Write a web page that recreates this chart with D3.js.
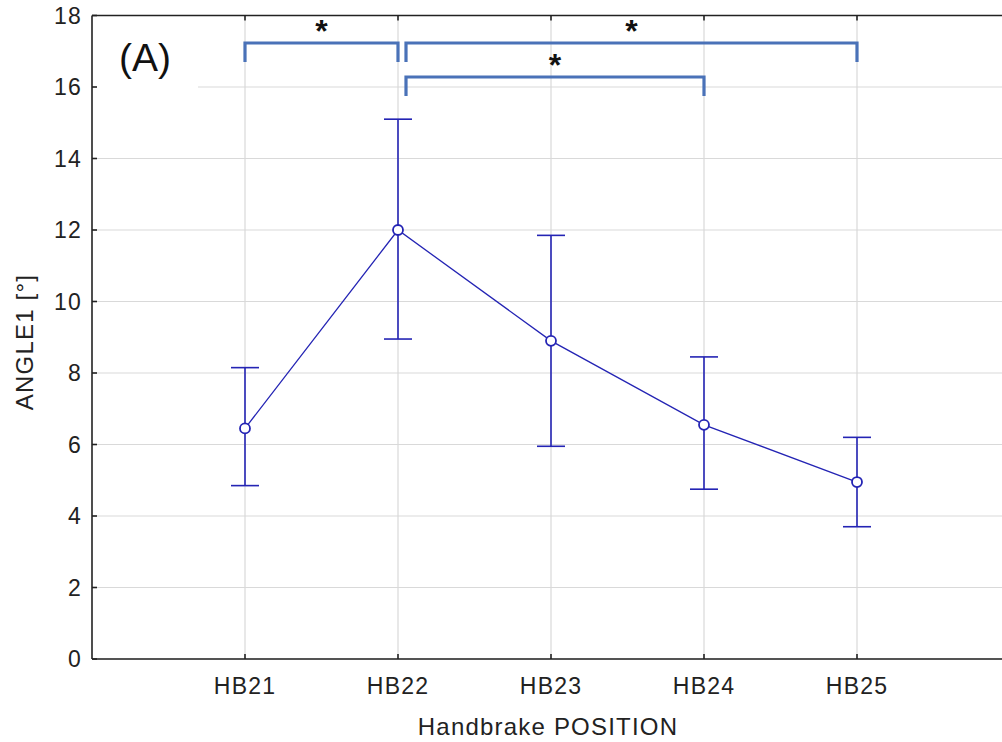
<!DOCTYPE html>
<html>
<head>
<meta charset="utf-8">
<script src="https://cdn.jsdelivr.net/npm/d3@7"></script>
<style>
  body { margin: 0; background: #fff; }
  svg { display: block; font-family: "Liberation Sans", Arial, sans-serif; }
  .grid line { stroke: #d9d9d9; stroke-width: 1.2; }
  .tick-lbl { fill: #222; font-size: 23px; letter-spacing: 1.2px; }
  .ttl { fill: #222; font-size: 24px; letter-spacing: 1.2px; }
</style>
</head>
<body>
<svg id="chart" width="1002" height="742"></svg>
<script>
// mean ANGLE1 with error bar ends, per handbrake position
const positions = ['HB21', 'HB22', 'HB23', 'HB24', 'HB25'];
const means = [6.45, 12.0, 8.9, 6.55, 4.95];
const upper = [8.15, 15.1, 11.85, 8.45, 6.2];
const lower = [4.85, 8.95, 5.95, 4.75, 3.7];
const yTicks = [0, 2, 4, 6, 8, 10, 12, 14, 16, 18];
// significance brackets: from, to, level (0 = top row)
const comparisons = [
  { from: 'HB21', to: 'HB22', level: 0 },
  { from: 'HB22', to: 'HB25', level: 0 },
  { from: 'HB22', to: 'HB24', level: 1 },
];

const M = { t: 15.5, l: 92, b: 659 };
const svg = d3.select('#chart');
const x = d3.scalePoint().domain(positions).range([M.l, M.l + 6 * 153]).padding(1);
const y = d3.scaleLinear().domain([0, 18]).range([M.b, M.t]);
const rows = positions.map((p, i) => ({ p, m: means[i], hi: upper[i], lo: lower[i] }));

// grid
const g = svg.append('g').attr('class', 'grid');
g.selectAll('.h').data(yTicks).join('line')
  .attr('x1', M.l).attr('x2', 1002).attr('y1', d => y(d)).attr('y2', d => y(d));
g.selectAll('.v').data(positions).join('line')
  .attr('x1', d => x(d)).attr('x2', d => x(d)).attr('y1', M.t).attr('y2', M.b);

// panel label with white box hiding the grid behind it
svg.append('rect').attr('x', M.l + 1).attr('y', 24).attr('width', 105).attr('height', 70).attr('fill', '#fff');
svg.append('text').attr('x', 119).attr('y', 71).attr('font-size', 39).attr('fill', '#111').text('(A)');

// frame + inward ticks
const ax = svg.append('g').attr('stroke', '#222').attr('stroke-width', 1.6);
ax.append('line').attr('x1', M.l).attr('x2', 1002).attr('y1', M.t).attr('y2', M.t);
ax.append('line').attr('x1', M.l).attr('x2', 1002).attr('y1', M.b).attr('y2', M.b);
ax.append('line').attr('x1', M.l).attr('x2', M.l).attr('y1', M.t).attr('y2', M.b);
ax.selectAll('.yt').data(yTicks).join('line')
  .attr('x1', M.l).attr('x2', M.l + 5).attr('y1', d => y(d)).attr('y2', d => y(d));
ax.selectAll('.xb').data(positions).join('line')
  .attr('x1', d => x(d)).attr('x2', d => x(d)).attr('y1', M.b).attr('y2', M.b - 5);
ax.selectAll('.xt').data(positions).join('line')
  .attr('x1', d => x(d)).attr('x2', d => x(d)).attr('y1', M.t).attr('y2', M.t + 5);

svg.selectAll('.ylab').data(yTicks).join('text').attr('class', 'tick-lbl')
  .attr('x', 82).attr('y', d => y(d)).attr('dy', '0.36em').attr('text-anchor', 'end').text(d => d);
svg.selectAll('.xlab').data(positions).join('text').attr('class', 'tick-lbl')
  .attr('x', d => x(d)).attr('y', 694).attr('text-anchor', 'middle').text(d => d);

svg.append('text').attr('class', 'ttl').attr('x', 548).attr('y', 735)
  .attr('text-anchor', 'middle').text('Handbrake POSITION');
svg.append('text').attr('class', 'ttl')
  .attr('transform', 'translate(33,342) rotate(-90)')
  .attr('text-anchor', 'middle').text('ANGLE1 [°]');

// error bars, line, markers
const blue = '#2424b4';
const eb = svg.append('g').attr('stroke', blue).attr('stroke-width', 1.6).attr('fill', 'none');
eb.selectAll('.v').data(rows).join('line')
  .attr('x1', d => x(d.p)).attr('x2', d => x(d.p)).attr('y1', d => y(d.hi)).attr('y2', d => y(d.lo));
eb.selectAll('.cu').data(rows).join('line')
  .attr('x1', d => x(d.p) - 14).attr('x2', d => x(d.p) + 14).attr('y1', d => y(d.hi)).attr('y2', d => y(d.hi));
eb.selectAll('.cl').data(rows).join('line')
  .attr('x1', d => x(d.p) - 14).attr('x2', d => x(d.p) + 14).attr('y1', d => y(d.lo)).attr('y2', d => y(d.lo));
eb.append('path').attr('stroke-width', 1.3)
  .attr('d', d3.line().x(d => x(d.p)).y(d => y(d.m))(rows));
eb.selectAll('circle').data(rows).join('circle')
  .attr('cx', d => x(d.p)).attr('cy', d => y(d.m)).attr('r', 5).attr('fill', '#fff').attr('stroke-width', 1.8);

// significance brackets
const br = svg.append('g');
comparisons.forEach(c => {
  const x0 = x(c.from) + (c.from === 'HB22' ? 8 : 0);
  const x1 = x(c.to);
  const top = 43 + c.level * 34, bot = top + 19;
  br.append('path').attr('fill', 'none').attr('stroke', '#4a72b8').attr('stroke-width', 3.2)
    .attr('d', `M${x0},${bot}V${top}H${x1}V${bot}`);
  br.append('text').attr('x', (x0 + x1) / 2).attr('y', top - 1)
    .attr('text-anchor', 'middle').attr('font-size', 32).attr('font-weight', 'bold').attr('fill', '#111').text('*');
});
</script>
</body>
</html>
